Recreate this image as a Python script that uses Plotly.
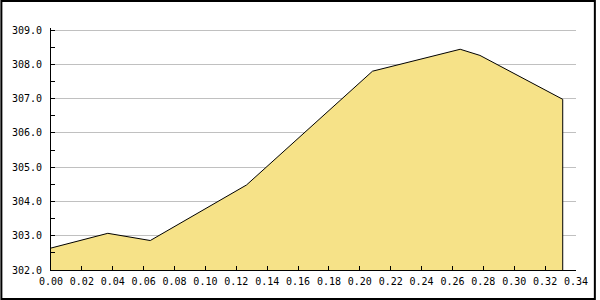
import plotly.graph_objects as go

# data
x_vals = [0.0, 0.0368, 0.0643, 0.1266, 0.2082, 0.2650, 0.2778, 0.3314]
y_vals = [302.64, 303.07, 302.86, 304.48, 307.80, 308.44, 308.26, 306.98]

y_range = [302.0, 309.06]
x_range = [0.0, 0.34]

W, H = 600, 300
ML, MR, MT, MB = 51, 20, 28, 30
PW, PH = W - ML - MR, H - MT - MB

FONT = "DejaVu Sans Mono"
FILL = "#F6E288"

fig = go.Figure()
fig.add_trace(go.Scatter(
    x=x_vals, y=y_vals, mode="lines", fill="tozeroy",
    fillcolor=FILL, line=dict(color="black", width=1), hoverinfo="skip",
    showlegend=False,
))
# right edge of the area down to the axis
fig.add_trace(go.Scatter(
    x=[x_vals[-1], x_vals[-1]], y=[y_vals[-1], y_range[0]], mode="lines",
    line=dict(color="black", width=1), hoverinfo="skip", showlegend=False,
))

fig.update_layout(
    width=W, height=H,
    margin=dict(l=ML, r=MR, t=MT, b=MB),
    paper_bgcolor="white", plot_bgcolor="white",
    font=dict(family=FONT, size=10, color="black"),
    xaxis=dict(
        range=x_range, dtick=0.02, tick0=0, tickformat=".2f",
        showgrid=False, zeroline=False,
        showline=True, linecolor="black", linewidth=1,
        ticks="inside", ticklen=4, tickcolor="black", tickwidth=1,
        ticklabelstandoff=2,
        tickfont=dict(family=FONT, size=10, color="black"),
    ),
    yaxis=dict(
        range=y_range, dtick=1, tick0=302, tickformat=".1f",
        showgrid=True, gridcolor="#C0C0C0", gridwidth=1, zeroline=False,
        showline=True, linecolor="black", linewidth=1,
        ticks="inside", ticklen=4, tickcolor="black", tickwidth=1,
        ticklabelstandoff=6,
        minor=dict(dtick=0.5, ticks="inside", ticklen=4, tickcolor="black", showgrid=False),
        tickfont=dict(family=FONT, size=10, color="black"),
    ),
    shapes=[dict(
        type="rect", xref="paper", yref="paper",
        x0=-(ML - 1) / PW, x1=1 + (MR - 1) / PW,
        y0=-(MB - 1) / PH, y1=1 + (MT - 1) / PH,
        line=dict(color="black", width=2), layer="above",
    )],
)

fig.write_html("out.html")
